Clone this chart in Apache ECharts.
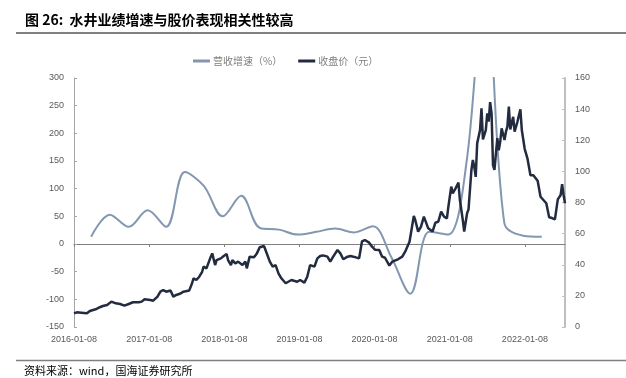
<!DOCTYPE html>
<html>
<head>
<meta charset="utf-8">
<script src="https://cdn.jsdelivr.net/npm/echarts@6/dist/echarts.min.js"></script>
<style>
html,body{margin:0;padding:0;background:#fff;}
#chart{width:626px;height:378px;}
</style>
</head>
<body>
<div id="chart"></div>
<script>
// ---- data ----
const titleText = '图 26:  水井业绩增速与股价表现相关性较高';
const sourceText = '资料来源：wind，国海证券研究所';
const seriesNames = ['营收增速（%）', '收盘价（元）'];

const xStart = '2016-01-08';
const xTickLabels = ['2016-01-08','2017-01-08','2018-01-08','2019-01-08','2020-01-08','2021-01-08','2022-01-08'];
const totalWeeks = 341;

// quarterly revenue growth (%)
const revDates = ['2016-03-31','2016-06-30','2016-09-30','2016-12-31',
  '2017-03-31','2017-06-30','2017-09-30','2017-12-31',
  '2018-03-31','2018-06-30','2018-09-30','2018-12-31',
  '2019-03-31','2019-06-30','2019-09-30','2019-12-31',
  '2020-03-31','2020-06-30','2020-09-30','2020-12-31',
  '2021-03-31','2021-06-30','2021-09-30','2021-12-31','2022-03-31'];
const revValues = [13,53,31,61, 31,130,105,50, 87,29,26,17, 22,28,21,32, -25,-90,22,17, 150,500,38,15,13];

// weekly close price (week offset from 2016-01-08)
const priceWeeks = [0,2,5,9,11,15,18,20,23,26,29,32,35,38,41,45,47,49,53,55,58,60,62,64,67,69,71,74,76,80,
  82,83,85,87,89,90,92,95,96,98,99,102,104,106,107,109,110,112,114,117,119,120,122,125,127,129,132,133,136,138,
  140,142,144,147,148,151,155,157,160,162,164,167,169,171,173,176,178,180,183,185,187,190,192,194,198,199,200,202,205,207,
  209,212,214,216,219,221,225,228,230,233,234,236,237,239,241,243,244,246,249,251,253,255,257,259,260,262,263,265,267,268,
  270,271,273,274,276,277,278,279,280,282,283,284,286,287,288,289,290,291,292,294,295,296,297,299,300,301,302,303,305,306,
  308,310,311,313,315,317,319,320,322,324,326,328,330,332,334,336,338,339,340,341];
const priceValues = [8.8,9.4,9.2,8.8,10.3,11.4,12.7,13.5,14.1,16.3,15.2,14.8,13.7,14.8,15.9,15.9,16.3,17.8,17.4,16.9,19.5,22.7,23.8,22.7,23.4,19.5,20.6,21.5,22.7,23.4,
  28.1,31.3,30.2,32.3,35.5,38.8,37.7,45.2,47.3,39.8,43,44.1,45.6,46.9,43,39.8,43,40.9,42,39.8,42,37.7,45.2,44.8,47.3,51.2,52,49.5,42,38.8,
  39.8,34.5,31.3,28.1,27,30.2,29.1,30.2,28.5,32.3,39.8,38.8,44.1,45.6,46,45.2,42,45.2,49.5,47.3,43.5,45.2,45.6,45.2,44.1,49.5,55,55.9,54.2,51.6,
  49.7,49.5,45.2,44.5,39.5,42,43.5,45.2,48.4,54.8,60.2,71.3,68.8,61.3,64.5,70.9,72,63.4,61.3,67,67.7,74.1,70.9,69.8,77.3,90.2,85.9,89.1,92.8,81.6,
  68.8,61.3,73.1,75.6,100.9,107.3,103,96.5,118,126.6,140.5,120.5,126.5,137.3,132,144.5,137.3,104,100.9,121.3,113.5,119,127.7,120.2,125.5,128.7,141.6,127,135.1,125.5,
  132,139.9,126.6,114.5,108,97.5,97.5,98.7,94,83.7,81.6,79.5,70.5,70,69.2,82,84.8,91.8,85,79.5];

// ---- helpers ----
function toTs(s){ const p = s.split('-').map(Number); return new Date(p[0], p[1]-1, p[2]).getTime(); }
function fmt(v){ const d = new Date(v); const m = d.getMonth()+1, dd = d.getDate();
  return d.getFullYear() + '-' + (m<10?'0':'') + m + '-' + (dd<10?'0':'') + dd; }
const DAY = 86400000;
const t0 = toTs(xStart);
const tEnd = t0 + totalWeeks*7*DAY;
const tickTs = xTickLabels.map(toTs);
const revData = revDates.map((d,i)=>[toTs(d), revValues[i]]);
const priceData = priceWeeks.map((w,i)=>[t0 + w*7*DAY, priceValues[i]]);

const chart = echarts.init(document.getElementById('chart'), null, {renderer:'canvas'});
const labelColor = '#595959';
chart.setOption({
  animation:false,
  textStyle:{fontFamily:'"Liberation Sans", Arial, "Noto Sans CJK SC", sans-serif'},
  grid:{left:74, right:61, top:78, bottom:51, containLabel:false},
  legend:{
    left:188, top:51, itemWidth:17, itemHeight:3, itemGap:16,
    icon:'rect',
    textStyle:{fontSize:10, color:'#7f7f7f', fontFamily:'"Noto Sans CJK SC", sans-serif', padding:[0,0,0,-2]},
    data:seriesNames
  },
  xAxis:[{
    type:'value', min:t0, max:tEnd, position:'bottom',
    axisLine:{show:true, onZero:true, onZeroAxisIndex:0, lineStyle:{color:'#808080', width:1}},
    axisTick:{show:true, customValues:tickTs, length:3, lineStyle:{color:'#808080'}},
    axisLabel:{show:false},
    splitLine:{show:false}
  },{
    type:'value', min:t0, max:tEnd, position:'bottom',
    axisLine:{show:false, onZero:false},
    axisTick:{show:false},
    axisLabel:{show:true, customValues:tickTs, formatter:fmt, fontSize:9, color:labelColor, margin:8, hideOverlap:false},
    splitLine:{show:false}
  }],
  yAxis:[{
    type:'value', min:-150, max:300, interval:50, position:'left',
    axisLine:{show:true, lineStyle:{color:'#a6a6a6', width:1}},
    axisTick:{show:true, inside:true, length:3, lineStyle:{color:'#a6a6a6'}},
    axisLabel:{fontSize:9, color:labelColor, margin:10},
    splitLine:{show:false}
  },{
    type:'value', min:0, max:160, interval:20, position:'right',
    axisLine:{show:true, lineStyle:{color:'#bfbfbf', width:2}},
    axisTick:{show:true, inside:true, length:3, lineStyle:{color:'#bfbfbf'}},
    axisLabel:{fontSize:9, color:labelColor, margin:10},
    splitLine:{show:false}
  }],
  series:[{
    name:seriesNames[0], type:'line', xAxisIndex:0, yAxisIndex:0,
    data:revData, smooth:0.35, showSymbol:false, symbol:'none', clip:true,
    lineStyle:{color:'#8497b0', width:2}, itemStyle:{color:'#8497b0'}, z:2
  },{
    name:seriesNames[1], type:'line', xAxisIndex:0, yAxisIndex:1,
    data:priceData, smooth:false, showSymbol:false, symbol:'none',
    lineStyle:{color:'#222b3f', width:2.5}, itemStyle:{color:'#222b3f'}, z:3
  }],
  graphic:[
    {type:'text', left:25, top:13, style:{text:titleText, fontSize:14, fontWeight:'bold', fill:'#000', fontFamily:'"Noto Sans CJK SC", sans-serif'}},
    {type:'line', shape:{x1:16, y1:33, x2:626, y2:33}, style:{stroke:'#808080', lineWidth:2}},
    {type:'line', shape:{x1:16, y1:360.5, x2:626, y2:360.5}, style:{stroke:'#808080', lineWidth:1.5}},
    {type:'text', left:24, top:365, style:{text:sourceText, fontSize:11, fill:'#000', fontFamily:'"Noto Sans CJK SC", sans-serif'}}
  ]
});
</script>
</body>
</html>
